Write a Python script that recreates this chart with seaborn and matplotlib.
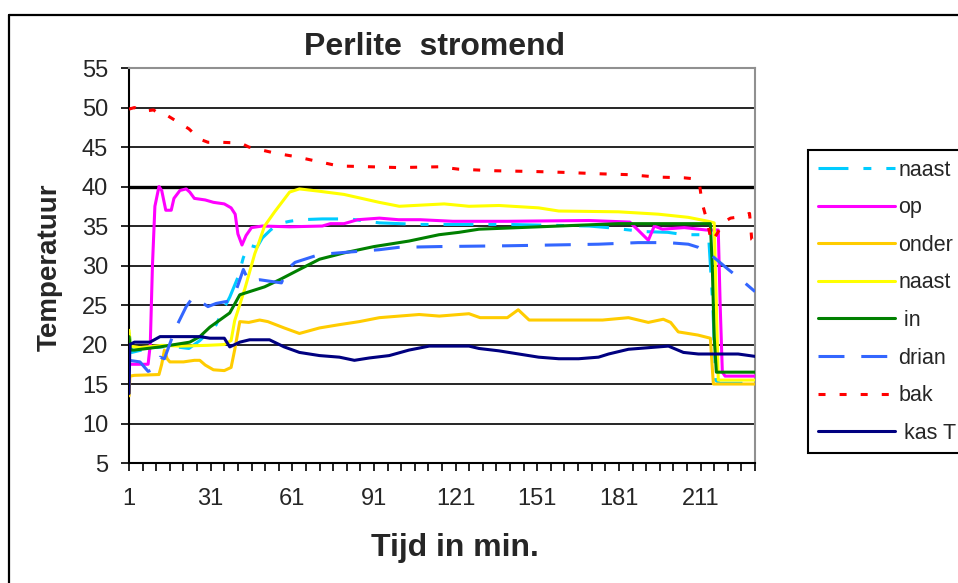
import numpy as np
import matplotlib.pyplot as plt
from matplotlib.lines import Line2D
import seaborn as sns

# tijd in minuten en temperatuur per sensor
naast1_t = [1, 2, 8, 16, 23, 27, 30, 33, 35, 38, 41, 43, 45, 48, 50, 53, 56, 60, 64, 72, 82, 93,
            108, 140, 170, 177, 190, 199, 205, 212, 214, 215.5, 216.5, 218, 231]
naast1_v = [21.5, 19, 19.5, 19.8, 19.5, 20.5, 21.5, 22.5, 24, 26, 28.5, 31, 32.6, 32.3, 33.5, 34.5,
            35.3, 35.6, 35.8, 35.9, 35.9, 35.4, 35.2, 35.2, 35, 34.8, 34.3, 34.2, 33.9, 33.9, 33.5,
            25, 15.5, 15.1, 15.1]

op_t = [1, 8, 8.8, 9.6, 10.5, 12, 13, 14.5, 16.5, 17.5, 19.7, 22, 23.3, 25, 29, 32, 36, 38.5, 40,
        41, 42.5, 44, 46, 50, 60, 72, 75, 80, 85, 93, 100, 108, 120, 140, 170, 185, 188, 191.8,
        194, 197, 205, 213, 217.5, 218.2, 219, 220, 231]
op_v = [17.5, 17.5, 20, 30, 37.5, 40, 39.5, 37, 37, 38.5, 39.5, 39.7, 39.3, 38.5, 38.3, 38, 37.8,
        37.3, 36.5, 34, 32.6, 33.8, 34.8, 35, 34.9, 35, 35.3, 35.3, 35.8, 36, 35.8, 35.8, 35.6,
        35.6, 35.7, 35.5, 34.5, 33.2, 35, 34.6, 34.8, 34.5, 34.5, 25, 16.5, 16, 16]

onder_t = [1, 1.3, 3, 12, 13, 14, 15, 16, 21, 25, 27, 29, 32, 36, 38.5, 39.8, 41.7, 45, 49, 52,
           58, 63.6, 71, 78, 85.6, 93, 107.6, 115, 125.9, 130, 140, 144, 148, 159, 175, 184.5,
           191.8, 197.3, 200, 202.8, 210, 214.6, 215.7, 231]
onder_v = [13.5, 16, 16.1, 16.2, 17.5, 19.3, 18.2, 17.8, 17.8, 18, 18, 17.4, 16.8, 16.7, 17.1,
           19.3, 22.9, 22.8, 23.1, 22.9, 22.1, 21.4, 22.1, 22.5, 22.9, 23.4, 23.8, 23.6, 23.9,
           23.4, 23.4, 24.4, 23.1, 23.1, 23.1, 23.4, 22.8, 23.2, 22.8, 21.6, 21.2, 20.8, 15, 15]

naast2_t = [1, 1.5, 5, 13, 20, 30, 36, 38.5, 39.8, 43.5, 47.2, 48.3, 50.8, 54.5, 60, 63.6, 71,
            80, 92.9, 100.3, 116.8, 125.9, 136.9, 151.5, 158.9, 180.8, 195.5, 206.5, 213.8, 216,
            216.8, 217.5, 231]
naast2_v = [21.8, 19.8, 19.6, 19.9, 19.8, 19.9, 20, 20.5, 23, 27, 31.5, 32.5, 35, 36.8, 39.3,
            39.7, 39.4, 39, 38, 37.5, 37.8, 37.5, 37.6, 37.3, 36.9, 36.8, 36.5, 36.1, 35.6, 35.4,
            25, 15.5, 15.5]

in_t = [1, 1.5, 3, 12.4, 23.3, 27, 30.7, 38, 41.7, 50.8, 56.3, 63.6, 71, 80, 91, 103.9, 114.9,
        122.2, 129.6, 144.2, 158.9, 173.5, 180.8, 214.6, 215.3, 216, 216.8, 231]
in_v = [21, 19.3, 19.3, 19.7, 20.3, 21, 22.2, 24, 26.3, 27.3, 28.2, 29.5, 30.8, 31.6, 32.4, 33.1,
        33.9, 34.2, 34.6, 34.8, 35, 35.2, 35.3, 35.3, 30, 21, 16.5, 16.5]

drian_t = [1, 5, 8, 9.5, 12.4, 14, 18, 22, 24.5, 27, 30, 33, 36, 38, 40, 43, 45, 49, 57, 59, 62,
           71, 78, 92.9, 100, 114.9, 140, 173.5, 188, 199, 206.5, 210.2, 214.6, 221.2, 226.6, 231]
drian_v = [18, 17.8, 16.6, 16.8, 18.4, 18.2, 22, 24.8, 26, 25.5, 24.8, 25.2, 25.4, 25.5, 26.5,
           29.5, 28, 28.2, 27.8, 29.5, 30.4, 31.4, 31.6, 32, 32.3, 32.4, 32.5, 32.7, 32.9, 32.9,
           32.7, 32.3, 31.4, 29.5, 28, 26.7]

bak_t = [1, 3, 6, 10, 12, 15, 19.7, 23, 27, 30, 35, 42, 45, 50, 55, 62, 70, 78, 90, 100, 115,
         122, 135, 150, 160, 175, 185, 195, 205, 208, 210.5, 211.5, 213.5, 215, 217, 219.5, 222,
         226, 229, 229.8, 231]
bak_v = [49.8, 50, 49.5, 49.7, 49.2, 49, 48, 47.3, 46, 45.6, 45.6, 45.5, 45, 44.6, 44.2, 43.8,
         43.2, 42.6, 42.5, 42.4, 42.5, 42.2, 42, 41.9, 41.8, 41.6, 41.5, 41.2, 41.1, 41, 40.6, 38,
         35.5, 33, 34, 35.5, 36, 36.2, 36.6, 33.3, 33]

kas_t = [1, 1.3, 3, 8.7, 12.4, 27, 30.7, 36, 38, 41.7, 45.3, 52.6, 58, 63.6, 71, 78.3, 83.8,
         89.3, 96.6, 103.9, 111.3, 125.9, 129.6, 136.9, 144.2, 151.5, 158.9, 166.2, 173.5, 177.2,
         184.5, 195.5, 199.2, 204.7, 210.2, 224.8, 231]
kas_v = [13.8, 20, 20.3, 20.3, 21, 21, 20.8, 20.8, 19.7, 20.3, 20.6, 20.6, 19.7, 19, 18.6, 18.4,
         18, 18.3, 18.6, 19.3, 19.8, 19.8, 19.5, 19.2, 18.8, 18.4, 18.2, 18.2, 18.4, 18.8, 19.4,
         19.7, 19.8, 19, 18.8, 18.8, 18.5]

series = [
    (naast1_t, naast1_v, 'naast', '#00CCFF', (0, (9.8, 4.9, 2.6, 4.9))),
    (op_t, op_v, 'op', '#FF00FF', '-'),
    (onder_t, onder_v, 'onder', '#FFCC00', '-'),
    (naast2_t, naast2_v, 'naast', '#FFFF00', '-'),
    (in_t, in_v, ' in', '#008000', '-'),
    (drian_t, drian_v, 'drian', '#3366FF', (0, (8.5, 5.5))),
    (bak_t, bak_v, 'bak', '#FF0000', (0, (2.3, 4.6))),
    (kas_t, kas_v, ' kas T', '#000080', '-'),
]

sns.set_style('white')
plt.rcParams['font.family'] = ['Liberation Sans', 'DejaVu Sans']

fig = plt.figure(figsize=(9.58, 5.83), dpi=100)
ax = fig.add_axes([0.1347, 0.2058, 0.6534, 0.6775])

for yv in range(10, 55, 5):
    ax.axhline(yv, color='black', lw=2.4 if yv == 40 else 1.2, zorder=1)

for t, v, name, col, ls in series:
    sns.lineplot(x=t, y=v, ax=ax, color=col, lw=2.2, linestyle=ls, label=name,
                 estimator=None, sort=False, zorder=3)

ax.set_xlim(1, 231)
ax.set_ylim(5, 55)
ax.set_yticks(range(5, 56, 5))
ax.set_xticks(range(1, 212, 30))
ax.set_xticks(range(1, 232, 5), minor=True)
ax.tick_params(which='both', direction='out', length=6, width=1.2, color='black',
               labelsize=17, left=True, bottom=True)
ax.tick_params(axis='x', pad=12)
ax.tick_params(axis='y', pad=9)

for s in ['left', 'bottom']:
    ax.spines[s].set_color('black')
    ax.spines[s].set_linewidth(1.5)
for s in ['top', 'right']:
    ax.spines[s].set_color('#909090')
    ax.spines[s].set_linewidth(1.5)

ax.set_xlabel('Tijd in min.', fontsize=23, fontweight='bold')
ax.set_ylabel('Temperatuur', fontsize=20, fontweight='bold')
ax.xaxis.set_label_coords(0.521, -0.215)
ax.xaxis.label.set_va('center')
ax.yaxis.set_label_coords(-0.126, 0.496)
ax.yaxis.label.set_va('center')

fig.text(435 / 958, 1 - 47 / 583, 'Perlite  stromend', fontsize=23, fontweight='bold',
         ha='center', va='center')

handles, labels = ax.get_legend_handles_labels()
leg = ax.legend(handles, labels, loc='upper left', bbox_to_anchor=(808 / 958, 1 - 150 / 583),
                bbox_transform=fig.transFigure, fontsize=15.5, handlelength=3.6,
                handletextpad=0.15, labelspacing=0.77, borderpad=0.45, borderaxespad=0,
                fancybox=False, framealpha=1, edgecolor='black')
leg.get_frame().set_linewidth(1.5)

# rand om de hele grafiek
fig.add_artist(Line2D([9 / 958, 1], [1 - 15 / 583, 1 - 15 / 583], color='black', lw=1.6,
                      transform=fig.transFigure))
fig.add_artist(Line2D([9 / 958, 9 / 958], [0, 1 - 15 / 583], color='black', lw=1.6,
                      transform=fig.transFigure))

fig.savefig('out.png', dpi=100)
